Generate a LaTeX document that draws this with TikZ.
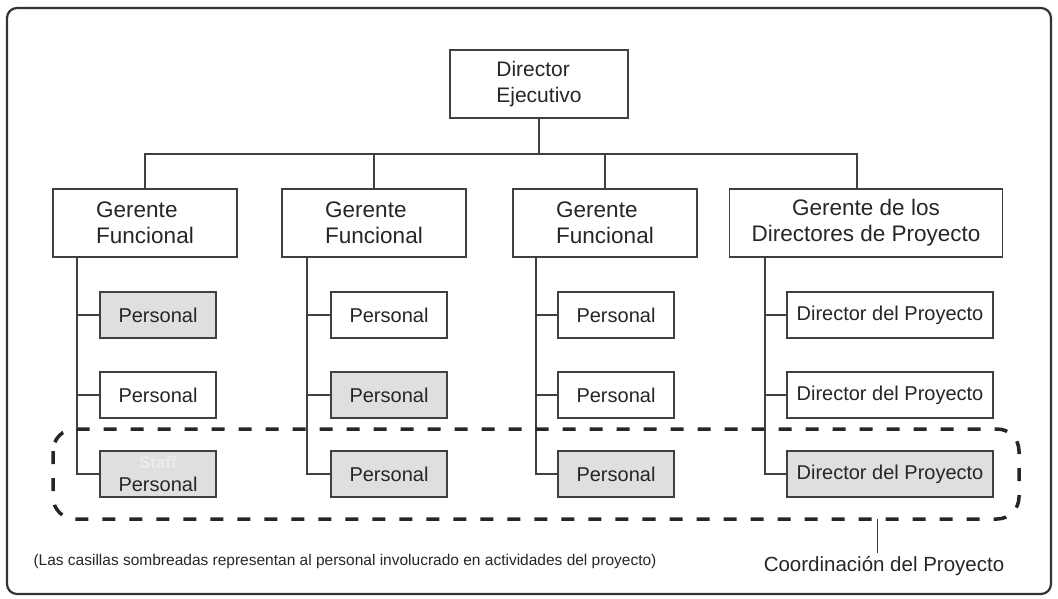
\documentclass[tikz,border=0pt]{standalone}
\usepackage{fontspec}
\setmainfont{Liberation Sans}

\begin{document}
\begin{tikzpicture}[x=1pt,y=-1pt,
  box/.style={draw=black!75, line width=1.4pt, fill=white, inner sep=0pt, text=black!85},
  shaded/.style={box, fill=gray!25},
  gbox/.style={box, minimum width=184, minimum height=68, align=left, font=\fontsize{22.5}{26}\selectfont},
  pbox/.style={minimum width=116, minimum height=46, font=\fontsize{20}{22}\selectfont},
  dbox/.style={minimum width=206, minimum height=46, font=\fontsize{20}{22}\selectfont},
  lin/.style={draw=black!75, line width=1.4pt}]
  \useasboundingbox (0,0) rectangle (1058,598);
  \draw[draw=black!80, line width=2.2pt, rounded corners=10] (7,8) rectangle (1051,594);

  % director and gerentes
  \node[gbox, minimum width=178, font=\fontsize{21}{26}\selectfont] (dir) at (539,84) {Director\\Ejecutivo};
  \node[gbox] (g1) at (145,223) {Gerente\\Funcional};
  \node[gbox] (g2) at (374,223) {Gerente\\Funcional};
  \node[gbox] (g3) at (605,223) {Gerente\\Funcional};
  \node[gbox, minimum width=273, align=center] (g4) at (866,223) {Gerente de los\\Directores de Proyecto};

  \coordinate (bar) at (539,154);
  \coordinate (bar4) at (857,154);
  \draw[lin] (dir.south) -- (bar);
  \draw[lin] (g1.north) -- (g1.north |- bar) -- (bar4) -- (g4.north -| bar4);
  \draw[lin] (g2.north) -- (g2.north |- bar);
  \draw[lin] (g3.north) -- (g3.north |- bar);

  % personal
  \node[shaded, pbox] (p11) at (158,315) {Personal};
  \node[box, pbox] (p12) at (158,395) {Personal};
  \node[shaded, pbox, align=center, font=\fontsize{20}{23}\selectfont] (p13) at (158,474)
    {{\color{white!85!gray}\fontsize{17}{23}\selectfont\bfseries Staff}\\Personal};
  \node[box, pbox] (p21) at (389,315) {Personal};
  \node[shaded, pbox] (p22) at (389,395) {Personal};
  \node[shaded, pbox] (p23) at (389,474) {Personal};
  \node[box, pbox] (p31) at (616,315) {Personal};
  \node[box, pbox] (p32) at (616,395) {Personal};
  \node[shaded, pbox] (p33) at (616,474) {Personal};
  \node[box, dbox] (p41) at (890,315) {Director del Proyecto};
  \node[box, dbox] (p42) at (890,395) {Director del Proyecto};
  \node[shaded, dbox] (p43) at (890,474) {Director del Proyecto};

  \coordinate (s1) at (77,257);
  \coordinate (s2) at (307,257);
  \coordinate (s3) at (536,257);
  \coordinate (s4) at (765,257);
  \draw[lin] (s1) -- (s1 |- p13) -- (p13.west) (s1 |- p11) -- (p11.west) (s1 |- p12) -- (p12.west);
  \draw[lin] (s2) -- (s2 |- p23) -- (p23.west) (s2 |- p21) -- (p21.west) (s2 |- p22) -- (p22.west);
  \draw[lin] (s3) -- (s3 |- p33) -- (p33.west) (s3 |- p31) -- (p31.west) (s3 |- p32) -- (p32.west);
  \draw[lin] (s4) -- (s4 |- p43) -- (p43.west) (s4 |- p41) -- (p41.west) (s4 |- p42) -- (p42.west);

  % coordinacion
  \draw[black!85, line width=3.5pt, dash pattern=on 13pt off 14pt, rounded corners=22] (53,429) rectangle (1019,519);
  \coordinate (tick) at (877,519);
  \node[text=black!85, font=\fontsize{20.5}{24}\selectfont] (coord) at (884,566) {Coordinación del Proyecto};
  \draw[lin, line width=1pt] (tick) -- (tick |- coord.north);
  \node[text=black!85, font=\fontsize{15.5}{18}\selectfont] (nota) at (345,561)
    {(Las casillas sombreadas representan al personal involucrado en actividades del proyecto)};
\end{tikzpicture}
\end{document}
